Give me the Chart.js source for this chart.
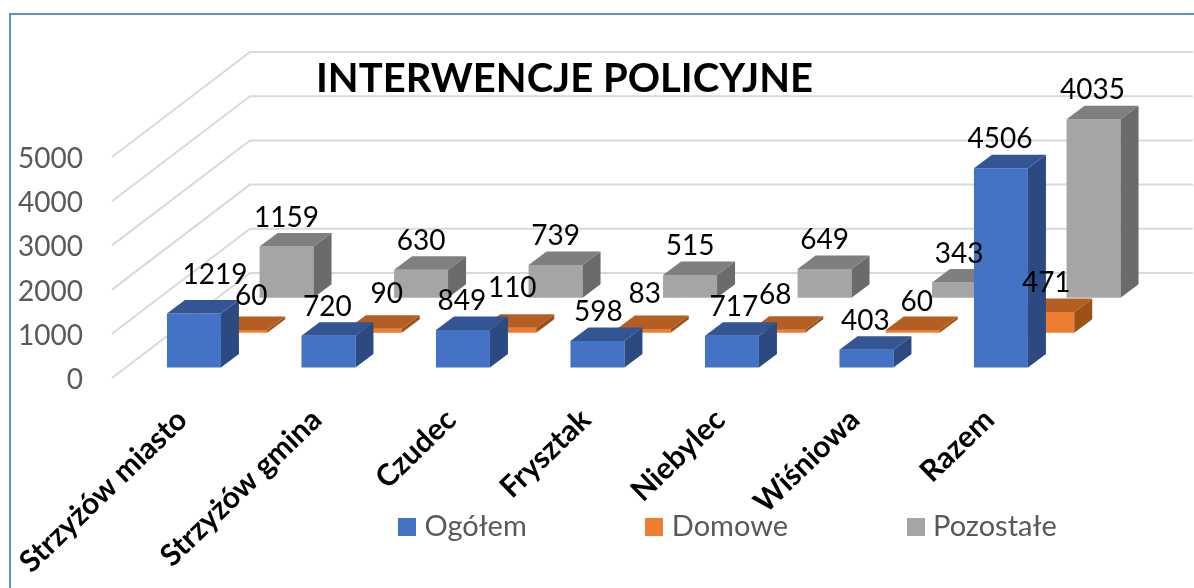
<!DOCTYPE html>
<html lang="pl">
<head>
<meta charset="utf-8">
<title>Interwencje policyjne</title>
<script src="https://cdn.jsdelivr.net/npm/chart.js@4"></script>
<style>
    html, body { margin: 0; background: #fff; overflow: hidden; }
    #frame { position: absolute; left: 9px; top: 13px; right: 0; bottom: 0; border-left: 2px solid #5b8fd0; border-top: 2px solid #5b8fd0; }
    canvas { position: absolute; left: 0; top: 0; }
</style>
</head>
<body>
<div id="frame"></div>
<canvas id="policeChart" width="1194" height="588"></canvas>
<script>
const categories = ['Strzyżów miasto', 'Strzyżów gmina', 'Czudec', 'Frysztak', 'Niebylec', 'Wiśniowa', 'Razem'];
const ogolem = [1219, 720, 849, 598, 717, 403, 4506];
const domowe = [60, 90, 110, 83, 68, 60, 471];
const pozostale = [1159, 630, 739, 515, 649, 343, 4035];
const yTicks = [0, 1000, 2000, 3000, 4000, 5000];

// fake 3d: each series stands on its own floor line, lifted above the axis zero
const PX_PER_UNIT = 221 / 5000;
const liftedScale = lift => ({
    display: false,
    min: -lift / PX_PER_UNIT,
    max: 5000 - lift / PX_PER_UNIT
});

const DEPTH_X = 18;
const DEPTH_Y = 13.5;

const fronts = ['#4472c4', '#ed7d31', '#a5a5a5'];
const faces = [
    { top: '#335593', side: '#2c4a82' },
    { top: '#b55e24', side: '#9c5118' },
    { top: '#7f7f7f', side: '#6b6b6b' }
];

// hand placed labels in the original, [dx, dy] per point
const labelShift = [
    [[21, -10], [-1, 0], [-1, 0], [1, 0], [2, 0], [-1, 0], [-1, 0]],
    [[11, -5], [12, -6], [3, -11], [1, -6], [-3, -6], [4, 1], [-1, 0]],
    [[0, 0], [0, 0], [0, 0], [0, 0], [0, 0], [0, 0], [-1, 0]]
];

// legend gap is tied to font size in chart.js, an image swatch gets it down to 8px
const swatch = color => {
    const c = document.createElement('canvas');
    c.width = 18;
    c.height = 18;
    const g = c.getContext('2d');
    g.fillStyle = color;
    g.fillRect(0, 0, 18, 18);
    return c;
};
const swatches = fronts.map(swatch);

const poly = (ctx, color, pts) => {
    ctx.fillStyle = color;
    ctx.beginPath();
    pts.forEach((p, i) => i ? ctx.lineTo(p[0], p[1]) : ctx.moveTo(p[0], p[1]));
    ctx.closePath();
    ctx.fill();
};

const wallGrid = {
    id: 'wallGrid',
    beforeDatasetsDraw(chart) {
        const ctx = chart.ctx;
        const y = chart.scales.y;
        ctx.save();
        ctx.strokeStyle = '#d9d9d9';
        ctx.lineWidth = 2;
        yTicks.forEach(v => {
            const p = y.getPixelForValue(v);
            ctx.beginPath();
            ctx.moveTo(112, p);
            ctx.lineTo(250, p - 105);
            ctx.lineTo(1193, p - 105);
            ctx.stroke();
        });
        ctx.restore();
    }
};

const barDepth = {
    id: 'barDepth',
    afterDatasetDraw(chart, args) {
        const ctx = chart.ctx;
        const face = faces[args.index];
        args.meta.data.forEach(bar => {
            const { x, y, base, width } = bar.getProps(['x', 'y', 'base', 'width'], true);
            const l = x - width / 2;
            const r = x + width / 2;
            poly(ctx, face.side, [[r, y], [r + DEPTH_X, y - DEPTH_Y], [r + DEPTH_X, base - DEPTH_Y], [r, base]]);
            poly(ctx, face.top, [[l, y], [l + DEPTH_X, y - DEPTH_Y], [r + DEPTH_X, y - DEPTH_Y], [r, y]]);
        });
    }
};

const valueLabels = {
    id: 'valueLabels',
    afterDatasetsDraw(chart) {
        const ctx = chart.ctx;
        ctx.save();
        ctx.font = '28px Lato';
        ctx.fillStyle = '#000';
        ctx.textAlign = 'center';
        ctx.textBaseline = 'middle';
        chart.data.datasets.forEach((ds, i) => {
            chart.getDatasetMeta(i).data.forEach((bar, j) => {
                const s = labelShift[i][j];
                ctx.fillText(ds.data[j], bar.x + s[0], bar.y - 29 + s[1]);
            });
        });
        ctx.restore();
    }
};

// the legend sits in the label band and the title is off centre
const placeBoxes = {
    id: 'placeBoxes',
    afterLayout(chart) {
        const legend = chart.legend;
        const pad = legend.options.labels.padding;
        legend.left = 404 - pad;
        legend.right = 1194;
        legend.top = 512 - pad;
        chart.titleBlock.left = 316;
        chart.titleBlock.right = 1194;
    }
};

new Chart(document.getElementById('policeChart'), {
    type: 'bar',
    data: {
        labels: categories,
        datasets: [
            { label: 'Ogółem', data: ogolem, backgroundColor: fronts[0], yAxisID: 'yOgolem', clip: false },
            { label: 'Domowe', data: domowe, backgroundColor: fronts[1], yAxisID: 'yDomowe', clip: false },
            { label: 'Pozostałe', data: pozostale, backgroundColor: fronts[2], yAxisID: 'yPozostale', clip: false }
        ]
    },
    plugins: [wallGrid, barDepth, valueLabels, placeBoxes],
    options: {
        responsive: false,
        animation: false,
        categoryPercentage: 1.0327,
        barPercentage: 1.166,
        layout: { padding: { right: 79.5 } },
        scales: {
            x: {
                grid: { display: false, drawTicks: false },
                border: { display: false },
                afterFit: s => { s.height = 209; },
                ticks: {
                    autoSkip: false,
                    minRotation: 44,
                    maxRotation: 44,
                    padding: 24,
                    labelOffset: -58,
                    color: '#000',
                    font: { family: 'Lato', size: 30, weight: 'bold' }
                }
            },
            y: {
                min: 0,
                max: 5000,
                grid: { display: false, drawTicks: false },
                border: { display: false },
                afterFit: s => { s.width = 173; },
                ticks: {
                    stepSize: 1000,
                    padding: 90,
                    labelOffset: 2,
                    color: '#595959',
                    font: { family: 'Lato', size: 28 },
                    callback: v => String(v)
                }
            },
            yOgolem: liftedScale(10.5),
            yDomowe: liftedScale(45.3),
            yPozostale: liftedScale(80.3)
        },
        plugins: {
            tooltip: { enabled: false },
            title: {
                display: true,
                text: 'INTERWENCJE POLICYJNE',
                align: 'start',
                color: '#000',
                font: { family: 'Lato', size: 40, weight: 'bold', lineHeight: 1 },
                padding: { top: 59, bottom: 58 }
            },
            legend: {
                position: 'bottom',
                align: 'start',
                maxHeight: 1,
                labels: {
                    usePointStyle: true,
                    boxWidth: 6,
                    boxHeight: 18,
                    padding: 124.5,
                    color: '#595959',
                    font: { family: 'Lato', size: 29 },
                    generateLabels: chart => Chart.defaults.plugins.legend.labels.generateLabels(chart)
                        .map((item, i) => ({ ...item, pointStyle: swatches[i] }))
                }
            }
        }
    }
});
</script>
</body>
</html>
